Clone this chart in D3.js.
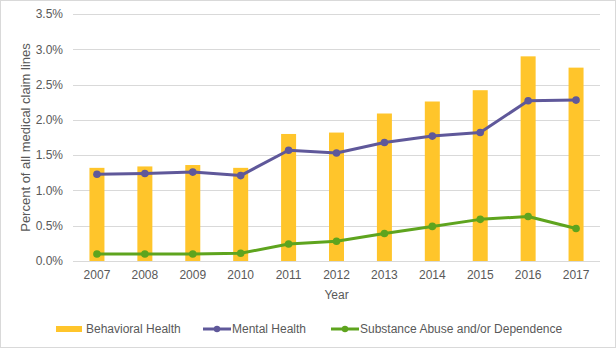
<!DOCTYPE html>
<html>
<head>
<meta charset="utf-8">
<script src="https://cdn.jsdelivr.net/npm/d3@7"></script>
<style>
  html, body { margin: 0; padding: 0; background: #fff; }
  svg { display: block; }
  text { font-family: "Liberation Sans", Arial, sans-serif; fill: #595959; }
</style>
</head>
<body>
<svg id="chart" width="616" height="348"></svg>
<script>
// Share of medical claim lines by year
const years = ["2007","2008","2009","2010","2011","2012","2013","2014","2015","2016","2017"];
const behavioralHealth = [1.32, 1.34, 1.36, 1.32, 1.80, 1.82, 2.09, 2.26, 2.42, 2.90, 2.74];
const mentalHealth     = [1.23, 1.24, 1.26, 1.21, 1.57, 1.53, 1.68, 1.77, 1.82, 2.27, 2.28];
const substanceAbuse   = [0.10, 0.10, 0.10, 0.11, 0.24, 0.28, 0.39, 0.49, 0.59, 0.63, 0.46];
const yTicks = [0, 0.5, 1.0, 1.5, 2.0, 2.5, 3.0, 3.5];
const seriesNames = ["Behavioral Health", "Mental Health", "Substance Abuse and/or Dependence"];

const colors = { bar: "#ffc52b", mental: "#5f589a", substance: "#5ea41e" };

const svg = d3.select("#chart");
const W = 616, H = 348;
const m = { left: 73, right: 16, top: 14, bottom: 87 };

// outer frame
svg.append("rect").attr("x", 0.5).attr("y", 0.5).attr("width", W - 1).attr("height", H - 1)
  .attr("fill", "#fff").attr("stroke", "#d9d9d9");

const x = d3.scaleBand().domain(years).range([m.left, W - m.right]);
const y = d3.scaleLinear().domain([0, 3.5]).range([H - m.bottom, m.top]);

// gridlines
svg.append("g").selectAll("line").data(yTicks).join("line")
  .attr("x1", m.left).attr("x2", W - m.right)
  .attr("y1", d => Math.round(y(d)) + 0.5).attr("y2", d => Math.round(y(d)) + 0.5)
  .attr("stroke", "#d9d9d9").attr("stroke-width", 1);

// y axis labels
const yAxis = d3.axisLeft(y).tickValues(yTicks).tickFormat(d => d.toFixed(1) + "%").tickSize(0).tickPadding(10);
const gy = svg.append("g").attr("transform", `translate(${m.left},0)`).call(yAxis);
gy.select(".domain").remove();
gy.selectAll("text").style("font-size", "12px").attr("fill", "#595959")
  .style("font-family", "'Liberation Sans', Arial, sans-serif");

// x axis labels
const xAxis = d3.axisBottom(x).tickSize(0).tickPadding(9);
const gx = svg.append("g").attr("transform", `translate(0,${H - m.bottom})`).call(xAxis);
gx.select(".domain").remove();
gx.selectAll("text").style("font-size", "12px").attr("fill", "#595959")
  .style("font-family", "'Liberation Sans', Arial, sans-serif");

// bars
const barW = 15;
svg.append("g").selectAll("rect").data(years).join("rect")
  .attr("x", (d) => x(d) + x.bandwidth() / 2 - barW / 2)
  .attr("width", barW)
  .attr("y", (d, i) => y(behavioralHealth[i]))
  .attr("height", (d, i) => y(0) - y(behavioralHealth[i]))
  .attr("fill", colors.bar);

// lines with markers
function drawLine(values, color) {
  const pts = years.map((yr, i) => [x(yr) + x.bandwidth() / 2, y(values[i])]);
  svg.append("path").attr("d", d3.line()(pts)).attr("fill", "none")
    .attr("stroke", color).attr("stroke-width", 3).attr("stroke-linejoin", "round");
  svg.append("g").selectAll("circle").data(pts).join("circle")
    .attr("cx", d => d[0]).attr("cy", d => d[1]).attr("r", 3.8).attr("fill", color);
}
drawLine(mentalHealth, colors.mental);
drawLine(substanceAbuse, colors.substance);

// axis titles
svg.append("text").attr("x", (m.left + W - m.right) / 2).attr("y", 299)
  .attr("text-anchor", "middle").style("font-size", "12px").text("Year");
svg.append("text")
  .attr("transform", `translate(30,${(m.top + H - m.bottom) / 2}) rotate(-90)`)
  .attr("text-anchor", "middle").style("font-size", "13px").text("Percent of all medical claim lines");

// legend
const ly = 329;
const lg = svg.append("g");
lg.append("rect").attr("x", 56).attr("y", ly - 3).attr("width", 26).attr("height", 6).attr("fill", colors.bar);
lg.append("text").attr("x", 86).attr("y", ly + 4).style("font-size", "12px").text(seriesNames[0]);

lg.append("line").attr("x1", 203).attr("x2", 231).attr("y1", ly).attr("y2", ly)
  .attr("stroke", colors.mental).attr("stroke-width", 3);
lg.append("circle").attr("cx", 217).attr("cy", ly).attr("r", 3.2).attr("fill", colors.mental);
lg.append("text").attr("x", 232).attr("y", ly + 4).style("font-size", "12px").text(seriesNames[1]);

lg.append("line").attr("x1", 331).attr("x2", 359).attr("y1", ly).attr("y2", ly)
  .attr("stroke", colors.substance).attr("stroke-width", 3);
lg.append("circle").attr("cx", 345).attr("cy", ly).attr("r", 3.2).attr("fill", colors.substance);
lg.append("text").attr("x", 360).attr("y", ly + 4).style("font-size", "12px").text(seriesNames[2]);
</script>
</body>
</html>
